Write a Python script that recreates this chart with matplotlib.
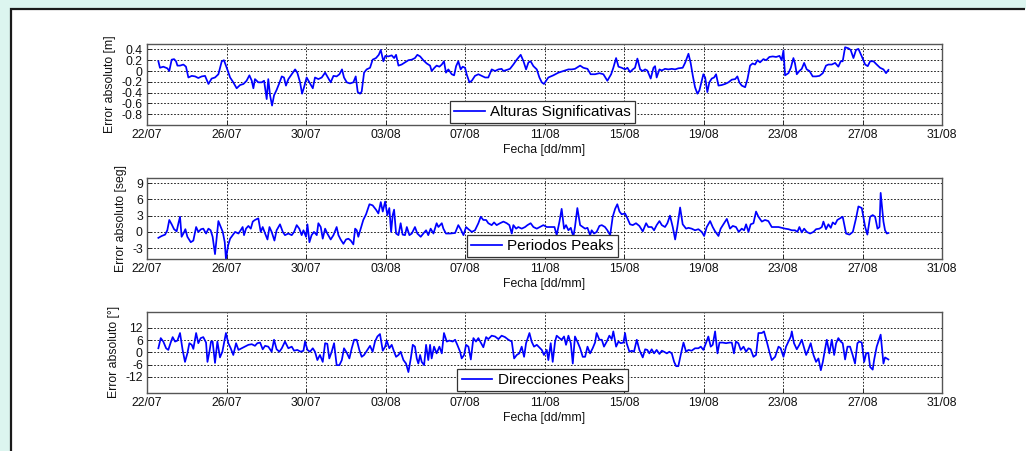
#!/usr/bin/env python3

import matplotlib
matplotlib.use('Agg')
import matplotlib.pyplot as plt
import matplotlib.dates as mdates
from matplotlib.patches import Rectangle
from matplotlib.lines import Line2D
import numpy as np
import pandas as pd

# Time stamps are stored as days elapsed since 22/07
startDate = pd.Timestamp('2013-07-22')
endDate = pd.Timestamp('2013-08-31')

alturasDays = [
  0.57, 0.65, 0.82, 1.02, 1.12, 1.24, 1.36, 1.46, 1.53, 1.66, 1.83, 1.96, 2.08, 2.25, 2.42, 2.58,
  2.75, 2.92, 3.09, 3.25, 3.42, 3.59, 3.76, 3.87, 4.01, 4.18, 4.34, 4.51, 4.68, 4.85, 5.01, 5.15,
  5.27, 5.35, 5.43, 5.60, 5.77, 5.89, 6.02, 6.10, 6.19, 6.29, 6.39, 6.52, 6.66, 6.78, 6.89, 6.99,
  7.11, 7.28, 7.45, 7.56, 7.70, 7.80, 7.90, 8.03, 8.17, 8.34, 8.45, 8.62, 8.79, 8.96, 9.07, 9.24,
  9.38, 9.54, 9.68, 9.81, 9.91, 10.05, 10.21, 10.38, 10.50, 10.60, 10.72, 10.80, 10.92, 11.05,
  11.22, 11.35, 11.52, 11.66, 11.76, 11.89, 11.99, 12.14, 12.31, 12.43, 12.53, 12.65, 12.81,
  12.98, 13.15, 13.32, 13.48, 13.60, 13.74, 13.90, 14.07, 14.24, 14.32, 14.46, 14.57, 14.71,
  14.83, 14.94, 15.04, 15.16, 15.33, 15.45, 15.55, 15.66, 15.78, 15.88, 16.00, 16.08, 16.22,
  16.34, 16.50, 16.67, 16.84, 17.01, 17.17, 17.34, 17.51, 17.68, 17.84, 17.93, 18.10, 18.26,
  18.43, 18.60, 18.80, 18.94, 19.07, 19.19, 19.30, 19.44, 19.61, 19.74, 19.86, 19.97, 20.19,
  20.44, 20.70, 20.95, 21.20, 21.37, 21.53, 21.79, 21.95, 22.16, 22.32, 22.54, 22.76, 22.96,
  23.16, 23.35, 23.46, 23.60, 23.72, 23.88, 24.05, 24.17, 24.30, 24.44, 24.55, 24.67, 24.81,
  24.94, 25.06, 25.17, 25.34, 25.48, 25.56, 25.64, 25.78, 25.90, 26.06, 26.23, 26.40, 26.57,
  26.73, 26.95, 27.07, 27.24, 27.35, 27.46, 27.57, 27.69, 27.79, 27.91, 27.99, 28.08, 28.19,
  28.29, 28.41, 28.53, 28.63, 28.75, 28.91, 29.08, 29.25, 29.42, 29.59, 29.70, 29.80, 29.92,
  30.09, 30.21, 30.34, 30.47, 30.59, 30.71, 30.84, 31.01, 31.15, 31.31, 31.48, 31.65, 31.82,
  31.93, 32.02, 32.10, 32.27, 32.39, 32.52, 32.60, 32.69, 32.82, 32.94, 33.06, 33.19, 33.33,
  33.49, 33.66, 33.83, 34.00, 34.16, 34.28, 34.45, 34.62, 34.78, 34.90, 35.00, 35.12, 35.29,
  35.40, 35.54, 35.67, 35.79, 35.96, 36.13, 36.26, 36.38, 36.55, 36.71, 36.88, 37.05, 37.18,
  37.30]
alturas = [
  0.18, 0.06, 0.08, 0.05, 0.00, 0.21, 0.22, 0.18, 0.10, 0.10, 0.12, 0.08, -0.12, -0.09, -0.10,
  -0.13, -0.10, -0.09, -0.24, -0.14, -0.12, -0.06, 0.18, 0.20, 0.06, -0.12, -0.21, -0.32, -0.26,
  -0.24, -0.18, -0.08, -0.18, -0.32, -0.15, -0.21, -0.21, -0.18, -0.52, -0.15, -0.45, -0.64,
  -0.45, -0.35, -0.22, -0.10, -0.12, -0.27, -0.15, -0.06, 0.03, -0.03, -0.21, -0.42, -0.30,
  -0.12, -0.21, -0.32, -0.12, -0.15, -0.12, -0.03, -0.10, -0.21, -0.09, -0.10, -0.06, 0.03,
  -0.12, -0.21, -0.23, -0.21, -0.10, -0.39, -0.42, -0.38, -0.03, 0.03, 0.06, 0.21, 0.24, 0.30,
  0.39, 0.18, 0.28, 0.27, 0.29, 0.24, 0.30, 0.10, 0.12, 0.16, 0.20, 0.21, 0.24, 0.30, 0.27, 0.20,
  0.14, 0.10, 0.00, 0.06, 0.10, 0.08, 0.12, 0.18, -0.03, 0.03, -0.06, -0.08, 0.09, 0.18, 0.03,
  0.08, 0.06, -0.06, -0.21, -0.18, -0.09, -0.06, -0.09, -0.12, -0.12, 0.03, 0.00, 0.03, 0.04,
  0.00, 0.02, 0.04, 0.12, 0.21, 0.30, 0.18, 0.03, 0.16, 0.18, 0.09, 0.03, -0.12, -0.21, -0.24,
  -0.12, -0.08, -0.03, 0.00, 0.03, 0.03, 0.04, 0.10, 0.06, 0.04, -0.06, -0.06, -0.04, -0.06,
  -0.18, -0.06, 0.06, 0.24, 0.08, 0.06, 0.03, 0.06, -0.02, 0.03, 0.06, 0.23, 0.03, 0.00, 0.03,
  0.01, -0.14, 0.06, 0.09, -0.12, 0.03, 0.01, 0.04, 0.03, 0.04, 0.03, 0.05, 0.06, 0.15, 0.32,
  0.15, -0.09, -0.30, -0.42, -0.36, -0.18, -0.06, -0.12, -0.39, -0.21, -0.14, -0.12, -0.06,
  -0.27, -0.26, -0.24, -0.21, -0.16, -0.15, -0.10, -0.21, -0.27, -0.30, -0.15, 0.10, 0.14, 0.12,
  0.20, 0.16, 0.22, 0.20, 0.26, 0.27, 0.26, 0.28, 0.20, 0.38, -0.08, -0.04, 0.06, 0.24, 0.14,
  -0.06, 0.00, 0.04, 0.15, 0.03, 0.00, -0.10, -0.10, -0.09, -0.04, 0.10, 0.12, 0.12, 0.15, 0.08,
  0.18, 0.18, 0.44, 0.42, 0.39, 0.24, 0.39, 0.41, 0.27, 0.12, 0.09, 0.18, 0.18, 0.12, 0.06, 0.03,
  -0.04, 0.02]

periodosDays = [
  0.57, 0.74, 0.91, 1.02, 1.12, 1.24, 1.36, 1.49, 1.58, 1.66, 1.74, 1.83, 1.93, 2.03, 2.20, 2.33,
  2.47, 2.58, 2.72, 2.83, 2.97, 3.09, 3.20, 3.30, 3.42, 3.51, 3.59, 3.71, 3.81, 3.91, 3.97, 4.08,
  4.18, 4.31, 4.43, 4.60, 4.71, 4.81, 4.88, 4.98, 5.10, 5.22, 5.32, 5.43, 5.60, 5.72, 5.82, 5.94,
  6.06, 6.16, 6.27, 6.41, 6.52, 6.69, 6.83, 6.94, 7.11, 7.28, 7.40, 7.53, 7.66, 7.78, 7.87, 8.00,
  8.07, 8.17, 8.28, 8.40, 8.54, 8.62, 8.74, 8.84, 8.96, 9.07, 9.24, 9.38, 9.54, 9.63, 9.74, 9.88,
  10.01, 10.13, 10.25, 10.38, 10.47, 10.55, 10.63, 10.75, 10.88, 11.02, 11.19, 11.35, 11.52,
  11.64, 11.76, 11.86, 11.98, 12.09, 12.19, 12.28, 12.36, 12.43, 12.53, 12.65, 12.76, 12.86,
  12.98, 13.07, 13.20, 13.32, 13.48, 13.60, 13.77, 13.90, 14.04, 14.15, 14.27, 14.41, 14.57,
  14.66, 14.83, 14.91, 15.04, 15.25, 15.50, 15.66, 15.78, 15.92, 16.05, 16.17, 16.34, 16.50,
  16.67, 16.79, 16.92, 17.06, 17.17, 17.34, 17.46, 17.59, 17.76, 17.93, 18.10, 18.23, 18.35,
  18.43, 18.57, 18.68, 18.85, 19.02, 19.14, 19.30, 19.44, 19.61, 19.94, 20.11, 20.36, 20.50,
  20.61, 20.75, 20.86, 20.98, 21.08, 21.20, 21.32, 21.45, 21.53, 21.65, 21.79, 21.92, 22.04,
  22.16, 22.29, 22.37, 22.49, 22.62, 22.76, 22.88, 23.04, 23.16, 23.30, 23.43, 23.55, 23.66,
  23.77, 23.88, 24.05, 24.17, 24.30, 24.44, 24.60, 24.77, 24.94, 25.11, 25.22, 25.39, 25.51,
  25.64, 25.78, 25.90, 26.06, 26.18, 26.31, 26.45, 26.57, 26.68, 26.82, 26.95, 27.12, 27.24,
  27.40, 27.57, 27.74, 27.91, 28.03, 28.16, 28.33, 28.46, 28.58, 28.75, 28.86, 29.03, 29.17,
  29.33, 29.47, 29.63, 29.77, 29.92, 30.04, 30.14, 30.26, 30.37, 30.51, 30.64, 30.76, 30.93,
  31.09, 31.26, 31.43, 31.60, 31.77, 31.93, 32.10, 32.27, 32.44, 32.60, 32.72, 32.82, 32.94,
  33.06, 33.19, 33.36, 33.53, 33.66, 33.83, 33.95, 34.03, 34.16, 34.28, 34.40, 34.50, 34.62,
  34.73, 34.87, 35.00, 35.17, 35.34, 35.51, 35.67, 35.79, 35.96, 36.13, 36.24, 36.38, 36.51,
  36.63, 36.75, 36.85, 36.91, 37.05, 37.13, 37.22, 37.30]
periodos = [
  -1.1, -0.75, -0.5, 0.3, 2.2, 1.4, 0.5, 0.1, 1.6, 2.8, -0.9, -0.3, 0.5, -0.9, -1.9, -1.6, 0.9,
  0.0, 0.5, 0.6, -0.3, 0.6, 0.3, -0.9, -4.1, -0.9, 2.0, 0.9, 0.0, -1.9, -5.0, -2.5, -1.25, -0.6,
  0.0, -0.3, 0.3, 0.9, -0.6, 0.6, 1.1, 0.6, 1.9, 2.2, 2.5, 0.0, 0.9, -0.3, -1.4, 0.9, 0.0, -1.6,
  0.3, 1.4, 0.0, -0.6, -0.3, -0.6, 0.0, 1.25, 0.6, -0.6, 0.3, -0.9, 1.4, -1.9, -0.6, 0.0, -0.6,
  1.6, 0.9, -1.25, 0.6, -0.3, -1.4, -0.6, 0.9, -0.6, -1.4, -2.2, -1.4, -1.25, -1.6, -2.3, 0.6,
  0.3, -0.9, 0.6, 2.2, 3.25, 5.1, 4.9, 4.1, 3.4, 5.5, 3.75, 5.6, 3.1, 4.4, 0.0, 3.1, 4.1, -0.3,
  -0.6, 1.6, -0.5, -0.6, 0.9, -0.6, -0.3, 0.9, -0.3, -0.9, -0.3, 0.3, -0.6, 0.6, -0.3, 1.6, 0.9,
  1.6, 0.6, -0.3, -0.3, -0.2, 1.25, 0.5, -0.6, 0.9, 0.5, 0.0, 0.3, 1.6, 2.8, 2.2, 2.2, 1.6, 1.25,
  1.75, 1.25, 1.6, 1.9, 1.6, 1.25, -0.3, 1.25, 0.6, 0.9, 0.6, 0.9, 1.25, 1.6, 0.9, 0.6, 1.25,
  0.9, 0.9, 0.9, -0.6, 1.9, 4.25, 0.6, 1.25, 0.3, 0.75, -0.9, 0.9, 4.4, 1.25, 0.9, 0.6, 0.75,
  -0.6, 0.3, -0.3, 0.0, 1.1, 1.25, 0.9, 0.3, -0.6, 2.8, 4.25, 5.1, 3.75, 3.25, 3.4, 2.5, 1.4,
  1.25, 1.6, 1.1, 0.1, 1.6, 0.9, 0.9, 0.3, 1.25, 2.0, 1.25, 0.9, 1.6, 3.0, 0.9, -1.4, 0.9, 4.5,
  1.4, 0.6, 0.75, 0.6, 0.3, 0.5, 0.0, -0.75, 0.9, 2.0, 0.9, 0.1, -0.75, 0.6, 1.6, 2.4, 0.6, 1.1,
  0.9, 0.0, 0.6, 0.3, 1.4, 0.0, 1.4, 1.6, 3.75, 2.8, 1.9, 2.2, 2.0, 0.9, 0.9, 0.9, 0.75, 0.6,
  0.5, 0.3, 0.3, 0.0, 0.9, -0.1, 0.6, 0.0, -0.3, 0.0, 0.5, 0.6, 0.9, 1.9, 0.5, 1.4, 0.75, 1.75,
  1.4, 2.2, 2.5, 2.8, -0.3, -0.5, 0.0, 2.5, 4.7, 4.4, 0.9, -0.5, 2.8, 3.1, 2.8, 0.6, 0.9, 7.2,
  1.9, 0.3, -0.3, -0.2]

direccionesDays = [
  0.57, 0.69, 0.82, 0.96, 1.07, 1.19, 1.29, 1.41, 1.53, 1.66, 1.79, 1.91, 2.03, 2.13, 2.25, 2.33,
  2.47, 2.58, 2.70, 2.83, 2.97, 3.04, 3.14, 3.22, 3.30, 3.42, 3.54, 3.67, 3.79, 3.87, 3.97, 4.09,
  4.21, 4.34, 4.48, 4.60, 4.76, 4.93, 5.10, 5.27, 5.43, 5.55, 5.69, 5.82, 5.94, 6.10, 6.27, 6.39,
  6.52, 6.66, 6.78, 6.94, 7.11, 7.28, 7.40, 7.56, 7.73, 7.87, 7.95, 8.07, 8.20, 8.34, 8.45, 8.57,
  8.70, 8.84, 8.96, 9.07, 9.17, 9.29, 9.41, 9.54, 9.68, 9.80, 9.91, 10.05, 10.18, 10.30, 10.42,
  10.55, 10.68, 10.80, 10.92, 11.09, 11.22, 11.35, 11.47, 11.59, 11.72, 11.86, 11.98, 12.06,
  12.19, 12.31, 12.43, 12.53, 12.65, 12.76, 12.90, 13.03, 13.15, 13.27, 13.37, 13.48, 13.57,
  13.65, 13.74, 13.82, 13.94, 14.04, 14.15, 14.24, 14.32, 14.44, 14.57, 14.71, 14.83, 14.94,
  15.08, 15.21, 15.38, 15.50, 15.61, 15.75, 15.83, 15.95, 16.05, 16.17, 16.29, 16.42, 16.55,
  16.67, 16.79, 16.92, 17.06, 17.17, 17.34, 17.51, 17.68, 17.84, 18.01, 18.18, 18.35, 18.47,
  18.60, 18.73, 18.85, 18.97, 19.07, 19.24, 19.35, 19.47, 19.61, 19.86, 19.97, 20.11, 20.19,
  20.31, 20.41, 20.53, 20.61, 20.75, 20.86, 20.98, 21.08, 21.20, 21.32, 21.42, 21.53, 21.65,
  21.79, 21.92, 22.04, 22.16, 22.29, 22.42, 22.54, 22.62, 22.76, 22.88, 22.99, 23.13, 23.26,
  23.38, 23.46, 23.60, 23.72, 23.83, 23.97, 24.05, 24.13, 24.27, 24.39, 24.50, 24.64, 24.77,
  24.94, 25.06, 25.17, 25.27, 25.39, 25.51, 25.64, 25.78, 25.90, 26.01, 26.15, 26.28, 26.40,
  26.52, 26.62, 26.73, 26.85, 26.99, 27.12, 27.24, 27.40, 27.57, 27.74, 27.86, 27.99, 28.13,
  28.24, 28.36, 28.46, 28.58, 28.70, 28.80, 28.96, 29.13, 29.30, 29.42, 29.53, 29.63, 29.75,
  29.87, 30.01, 30.14, 30.26, 30.37, 30.51, 30.64, 30.76, 30.93, 31.04, 31.18, 31.31, 31.43,
  31.60, 31.77, 31.88, 32.02, 32.15, 32.27, 32.39, 32.44, 32.55, 32.69, 32.82, 32.94, 33.06,
  33.16, 33.27, 33.39, 33.53, 33.66, 33.78, 33.90, 34.00, 34.11, 34.20, 34.33, 34.45, 34.57,
  34.67, 34.78, 34.90, 35.00, 35.12, 35.24, 35.37, 35.50, 35.62, 35.74, 35.84, 35.96, 36.08,
  36.18, 36.29, 36.38, 36.51, 36.58, 36.71, 36.85, 36.91, 37.05, 37.13, 37.22, 37.30]
direcciones = [
  2.0, 7.0, 5.3, 2.0, 1.2, 4.8, 7.5, 5.3, 5.8, 9.5, 1.2, -4.7, -0.5, 4.5, 3.7, 1.7, 9.5, 4.5, 7.0,
  7.5, 4.8, -4.7, 0.3, 5.3, 5.3, -5.2, 5.3, -2.5, 0.3, 4.5, 9.5, 4.5, 2.0, -1.3, 4.5, 1.2, 2.0,
  2.8, 3.7, 4.0, 3.2, 4.5, 4.8, 1.5, 3.2, 2.8, 0.3, 6.2, 1.5, 0.3, 2.0, 5.3, 2.0, 2.8, 0.8, 1.2,
  0.3, 0.8, 5.3, 1.2, 0.3, 2.0, 0.3, -3.8, -1.3, -4.7, 4.5, 4.2, -3.0, 0.3, 4.5, -6.3, -6.3,
  -3.8, 2.0, -0.2, -3.0, 2.0, 6.2, 6.2, 1.2, -2.2, -1.3, 1.2, 3.2, 0.3, 5.3, 7.8, 9.0, 0.8, 2.8,
  5.8, 2.0, 3.7, 0.3, -2.2, -1.3, 0.3, -3.8, -5.5, -9.7, -3.0, 3.7, 2.8, -3.0, -5.5, -1.3, -4.7,
  -6.3, 3.7, -3.8, 3.7, -3.0, 2.8, -0.5, 2.8, -0.5, 9.5, 5.3, 5.8, 5.3, 6.2, 3.7, 0.3, -3.0,
  -1.3, 3.7, 2.8, -3.5, 7.0, 5.3, 7.0, 4.8, 2.5, 7.5, 6.5, 8.2, 7.8, 6.5, 8.2, 7.5, 6.2, 5.3,
  -3.0, -1.3, -0.5, 2.8, -2.2, 4.5, 9.5, 5.3, 2.8, 3.7, 1.2, -1.3, 1.2, -3.8, 4.5, -4.7, 5.3,
  8.2, 7.0, 6.2, 7.8, 3.7, 8.2, 4.5, -5.5, 7.8, 5.3, 2.0, -2.2, -2.2, 2.8, -0.5, 2.0, 4.8, 9.5,
  6.2, 6.2, 2.8, 5.3, 8.2, 6.5, 10.3, 2.8, 5.3, 4.5, 4.8, 9.5, 4.5, 0.3, 0.8, 0.3, 6.2, 1.2,
  -2.5, 1.5, 1.2, -0.5, 1.5, -0.5, 1.2, -0.8, 0.8, 0.3, -0.5, 0.3, -0.5, -4.7, -6.8, -6.8, -1.3,
  4.8, 0.3, 1.2, 0.8, 2.0, 2.0, 2.8, 1.2, 4.8, 7.8, 2.8, 3.7, 10.3, -0.5, 4.8, 4.8, 4.5, 4.8,
  4.8, -0.5, 5.3, 4.5, 1.2, 2.8, 0.3, 2.0, 1.5, -2.2, -1.3, 9.5, 9.5, 10.3, 5.3, 0.3, -3.8,
  -2.2, 2.8, 2.0, -2.2, 2.8, 5.3, 7.8, 10.3, 4.5, 1.5, 3.7, 6.2, 2.0, -1.3, 1.2, 4.5, -1.3, -4.7,
  -3.0, -8.8, -4.7, 1.5, 6.2, -0.5, 6.2, -1.3, 4.5, 7.0, 5.3, 4.5, -3.5, 2.8, 2.8, -1.3, -5.5,
  4.5, 5.3, 4.8, -4.7, -0.5, -0.2, -7.2, -8.5, -3.8, 2.8, 7.0, 8.7, -5.5, -2.5, -3.0, -3.5]

# (days, values, y label, legend label, y limits, y ticks, tick labels)
panels = [
  (alturasDays, alturas, 'Error absoluto [m]', 'Alturas Significativas',
   (-1.0, 0.5), [-0.8, -0.6, -0.4, -0.2, 0.0, 0.2, 0.4],
   ['-0.8', '-0.6', '-0.4', '-0.2', '0', '0.2', '0.4']),
  (periodosDays, periodos, 'Error absoluto [seg]', 'Periodos Peaks',
   (-5, 10), [-3, 0, 3, 6, 9], ['-3', '0', '3', '6', '9']),
  (direccionesDays, direcciones, 'Error absoluto [°]', 'Direcciones Peaks',
   (-20, 20), [-12, -6, 0, 6, 12], ['-12', '-6', '0', '6', '12']),
]

# axes rectangles in figure fractions: left, bottom, width, height
axesRects = [
  [0.1433, 0.7228, 0.7749, 0.1796],
  [0.1433, 0.4257, 0.7749, 0.1803],
  [0.1433, 0.1286, 0.7749, 0.1803],
]

plt.rcParams['font.family'] = ['Liberation Sans', 'DejaVu Sans']

def toDates(days):
  return (startDate + pd.to_timedelta(np.array(days), unit='D')).to_numpy()

def main():
  fig = plt.figure(figsize=(10.2601, 4.5101), dpi=100, facecolor='#dcf5ef')

  # white panel behind the plots, bordered only on its top and left edges
  frameLeft = 10.5 / 1026
  frameTop = 1 - 9.5 / 451
  fig.patches.append(Rectangle((frameLeft, 0.0), 1.0 - frameLeft, frameTop,
                               transform=fig.transFigure, facecolor='white',
                               edgecolor='none', zorder=-10))
  fig.lines.append(Line2D([frameLeft, frameLeft, 0.999], [0.0, frameTop, frameTop],
                          transform=fig.transFigure, color='#1a1a1a', linewidth=1.6,
                          solid_joinstyle='miter', solid_capstyle='butt', zorder=-9))

  tickDates = pd.date_range(startDate, endDate, freq='4D')

  for rect, panel in zip(axesRects, panels):
    days, values, ylabel, label, ylim, yticks, yticklabels = panel
    ax = fig.add_axes(rect, zorder=1)
    ax.plot(toDates(days), values, color='#0000ff', linewidth=1.25, label=label)

    ax.set_xlim(startDate, endDate)
    ax.set_ylim(*ylim)
    ax.set_xticks(tickDates)
    ax.xaxis.set_major_formatter(mdates.DateFormatter('%d/%m'))
    ax.set_yticks(yticks)
    ax.set_yticklabels(yticklabels)

    ax.tick_params(axis='both', direction='in', length=3, width=0.6, labelsize=8.8,
                   pad=3, colors='#111111')
    ax.grid(True, which='major', color='black', linestyle=(0, (2, 2)), linewidth=0.6)
    for spine in ax.spines.values():
      spine.set_color('#555555')
      spine.set_linewidth(1.0)

    ax.set_xlabel('Fecha [dd/mm]', fontsize=8.8, labelpad=2, color='#111111')
    ax.set_ylabel(ylabel, fontsize=8.8, labelpad=4, color='#111111')

    leg = ax.legend(loc='lower center', bbox_to_anchor=(0.4975, 0.0), fontsize=11,
                    fancybox=False, framealpha=1, edgecolor='#333333',
                    borderpad=0.28, handlelength=2.0, handletextpad=0.35,
                    borderaxespad=0.12)
    leg.get_frame().set_linewidth(0.9)

  fig.savefig('out.png', dpi=100, facecolor=fig.get_facecolor())

if __name__ == '__main__':
  main()
